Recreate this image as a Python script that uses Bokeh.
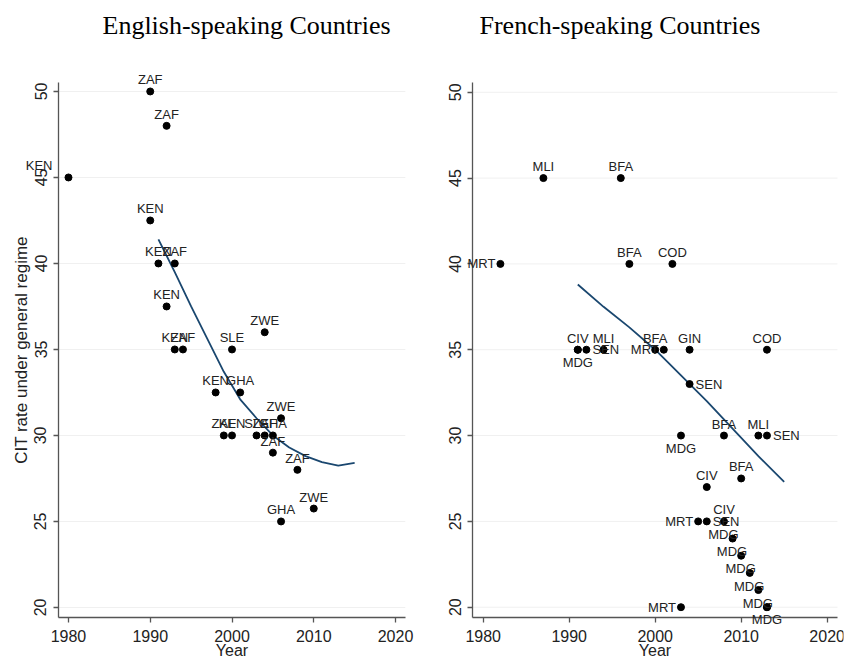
from bokeh.plotting import figure
from bokeh.layouts import row
from bokeh.models import ColumnDataSource, Range1d, FixedTicker, LabelSet, Title
from bokeh.core.properties import value
from bokeh.embed import file_html
from bokeh.resources import INLINE

# ---------------- data ----------------
eng_country = ["KEN", "ZAF", "ZAF", "KEN", "KEN", "ZAF", "KEN", "KEN", "ZAF", "SLE",
               "ZWE", "KEN", "GHA", "ZAF", "KEN", "SLE", "ZAF", "GHA", "ZWE", "ZAF",
               "ZAF", "ZWE", "GHA"]
eng_year = [1980, 1990, 1992, 1990, 1991, 1993, 1992, 1993, 1994, 2000,
            2004, 1998, 2001, 1999, 2000, 2003, 2004, 2005, 2006, 2005,
            2008, 2010, 2006]
eng_rate = [45, 50, 48, 42.5, 40, 40, 37.5, 35, 35, 35,
            36, 32.5, 32.5, 30, 30, 30, 30, 30, 31, 29,
            28, 25.75, 25]
eng_pos = [10, 12, 12, 12, 12, 12, 12, 12, 12, 12,
           12, 12, 12, 12, 12, 12, 12, 12, 12, 12,
           12, 12, 12]

fr_country = ["MRT", "MLI", "BFA", "BFA", "COD", "CIV", "MDG", "SEN", "MLI", "BFA",
              "MRT", "GIN", "COD", "SEN", "MDG", "BFA", "MLI", "SEN", "BFA", "CIV",
              "MRT", "SEN", "CIV", "MDG", "MDG", "MDG", "MDG", "MDG", "MDG", "MRT"]
fr_year = [1982, 1987, 1996, 1997, 2002, 1991, 1991, 1992, 1994, 2000,
           2001, 2004, 2013, 2004, 2003, 2008, 2012, 2013, 2010, 2006,
           2005, 2006, 2008, 2009, 2010, 2011, 2012, 2013, 2013, 2003]
fr_rate = [40, 45, 45, 40, 40, 35, 35, 35, 35, 35,
           35, 35, 35, 33, 30, 30, 30, 30, 27.5, 27,
           25, 25, 25, 24, 23, 22, 21, 20, 20, 20]
fr_pos = [9, 12, 12, 12, 12, 12, 6, 3, 12, 12,
          9, 12, 12, 3, 6, 12, 12, 3, 12, 12,
          9, 3, 12, 11, 11, 11, 11, 11, 6, 9]

# fitted curves
eng_fit_year = [1991, 1993, 1995, 1997, 1999, 2001, 2003, 2005, 2007, 2009, 2011, 2013, 2015]
eng_fit_rate = [41.4, 39.5, 37.5, 35.6, 33.7, 32.1, 31.0, 30.0, 29.3, 28.8, 28.45, 28.25, 28.4]
fr_fit_year = [1991, 1994, 1997, 2000, 2003, 2006, 2009, 2012, 2015]
fr_fit_rate = [38.8, 37.5, 36.3, 35.0, 33.5, 32.0, 30.4, 28.8, 27.3]

x_ticks = [1980, 1990, 2000, 2010, 2020]
y_ticks = [20, 25, 30, 35, 40, 45, 50]

# label placement (clock positions); dy in screen px, positive = downwards
POS = {
    12: dict(align="center", baseline="bottom", dx=0, dy=-4),
    3: dict(align="left", baseline="middle", dx=6, dy=0),
    9: dict(align="right", baseline="middle", dx=-5, dy=0),
    6: dict(align="center", baseline="top", dx=0, dy=5),
    11: dict(align="right", baseline="middle", dx=6, dy=-4),
    10: dict(align="right", baseline="middle", dx=-16, dy=-12),
}

SANS = "Liberation Sans"
AXIS_COLOR = "#555555"
TEXT_COLOR = "#222222"
H = 657


def make_fig(title, ylabel, width, toff, xr, yr, xbox, ybox,
             countries, years, rates, pos, fy, fr):
    p = figure(width=width, height=H, title=None,
               x_range=Range1d(*xr), y_range=Range1d(*yr),
               output_backend="svg", toolbar_location=None,
               min_border_left=2, min_border_right=2,
               min_border_top=60, min_border_bottom=0)
    p.outline_line_color = None
    p.background_fill_color = "white"
    p.border_fill_color = "white"

    # spacer between the frame and the title, then the title itself
    p.add_layout(Title(text=" ", text_font_size="2px", standoff=12), "above")
    p.add_layout(Title(text=title, text_font="Liberation Serif", text_font_size="26px",
                       text_font_style="normal", text_color="black",
                       align="left", offset=toff + 56, standoff=10), "above")

    p.xaxis.ticker = FixedTicker(ticks=x_ticks)
    p.yaxis.ticker = FixedTicker(ticks=y_ticks)
    p.xaxis.fixed_location = ybox[0]
    p.yaxis.fixed_location = xbox[0]
    p.xaxis.bounds = xbox
    p.yaxis.bounds = ybox
    for ax in (p.xaxis, p.yaxis):
        ax.axis_line_color = AXIS_COLOR
        ax.axis_line_width = 1.3
        ax.major_tick_line_color = AXIS_COLOR
        ax.major_tick_line_width = 1.3
        ax.major_tick_in = 0
        ax.major_tick_out = 5
        ax.minor_tick_line_color = None
        ax.major_label_text_font = SANS
        ax.major_label_text_font_size = "16px"
        ax.major_label_text_color = TEXT_COLOR
        ax.axis_label_text_font = SANS
        ax.axis_label_text_font_size = "16px"
        ax.axis_label_text_font_style = "normal"
        ax.axis_label_text_color = TEXT_COLOR
    p.xaxis.major_label_standoff = 8
    p.xaxis.axis_label = "Year"
    p.xaxis.axis_label_standoff = -4
    p.yaxis.major_label_orientation = "vertical"
    p.yaxis.major_label_standoff = 7
    if ylabel:
        p.yaxis.axis_label = ylabel
        p.yaxis.axis_label_text_font_size = "17px"
        p.yaxis.axis_label_standoff = 1

    # faint horizontal grid inside the axis box
    p.grid.visible = False
    p.segment(x0=[xbox[0]] * len(y_ticks), x1=[xbox[1]] * len(y_ticks),
              y0=y_ticks, y1=y_ticks, line_color="#f0f0f0", line_width=1)

    p.line(fy, fr, line_color="#1a476f", line_width=1.8)

    src = ColumnDataSource(dict(x=years, y=rates, t=countries))
    p.scatter("x", "y", source=src, size=7, color="black")

    for code, cfg in POS.items():
        idx = [i for i, v in enumerate(pos) if v == code]
        if not idx:
            continue
        s = ColumnDataSource(dict(x=[years[i] for i in idx],
                                  y=[rates[i] for i in idx],
                                  t=[countries[i] for i in idx]))
        p.add_layout(LabelSet(x="x", y="y", text="t", source=s,
                              text_font=value(SANS), text_font_size="13px",
                              text_color=TEXT_COLOR,
                              text_align=cfg["align"], text_baseline=cfg["baseline"],
                              x_offset=cfg["dx"], y_offset=-cfg["dy"]))
    return p


p1 = make_fig("English-speaking Countries", "CIT rate under general regime",
              420, 44, (1971.93, 2022.81), (17.09, 51.80),
              (1978.78, 2021.2), (19.42, 50.52),
              eng_country, eng_year, eng_rate, eng_pos,
              eng_fit_year, eng_fit_rate)
p2 = make_fig("French-speaking Countries", None,
              425, 1, (1972.94, 2021.9), (17.07, 51.85),
              (1978.79, 2021.2), (19.41, 50.55),
              fr_country, fr_year, fr_rate, fr_pos,
              fr_fit_year, fr_fit_rate)

layout = row(p1, p2)
open("out.html", "w").write(file_html(layout, INLINE))
